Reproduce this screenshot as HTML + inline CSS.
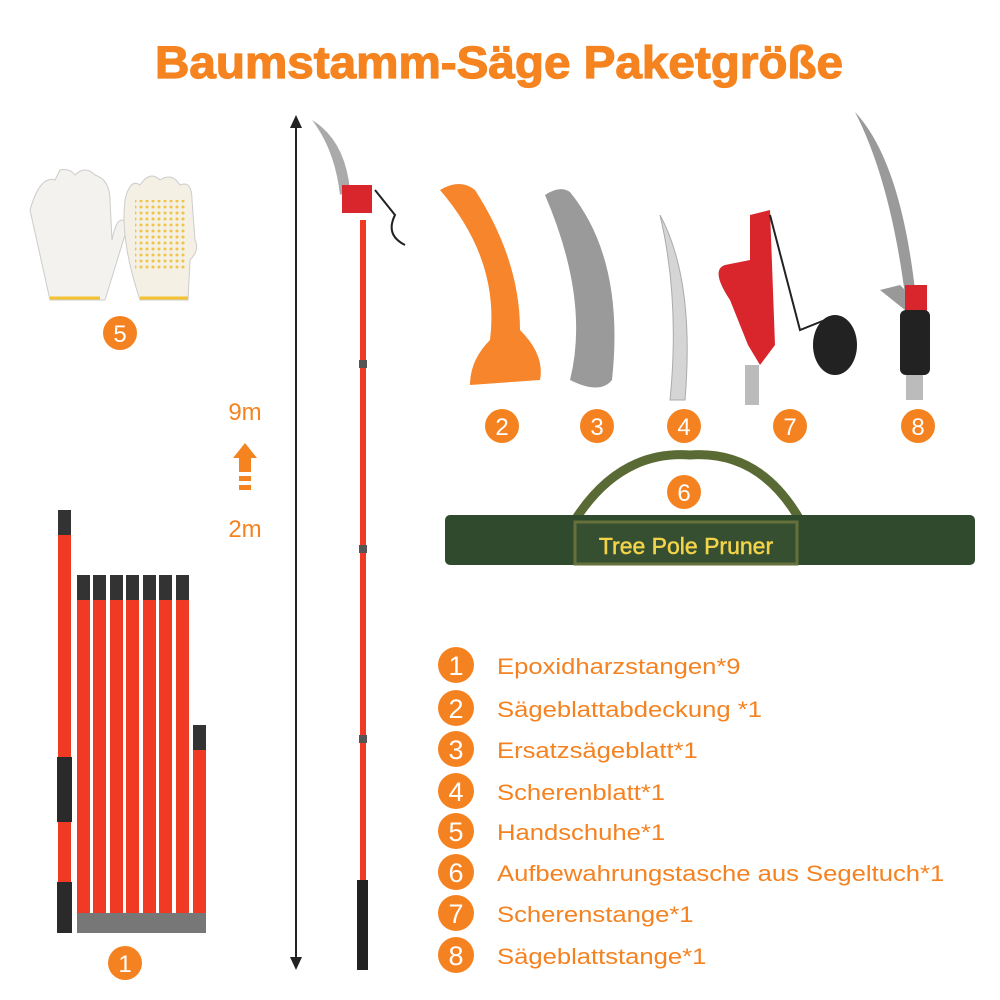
<!DOCTYPE html><html><head><style>body{margin:0;background:#fff}svg{display:block}</style></head><body>
<svg width="1000" height="1000" xmlns="http://www.w3.org/2000/svg" font-family="Liberation Sans, sans-serif">
<text x="155" y="78" font-size="45" font-weight="900" fill="#f5831f" stroke="#f5831f" stroke-width="1.2" textLength="688" lengthAdjust="spacingAndGlyphs">Baumstamm-Säge Paketgröße</text>
<!-- gloves -->
<path d="M30 210 Q40 175 55 180 L60 170 Q70 168 75 175 Q85 165 95 175 Q110 180 110 200 L112 240 Q118 210 128 225 L105 300 L50 300 Z" fill="#f4f2ee" stroke="#ccc"/>
<path d="M125 200 Q130 178 140 185 Q150 170 160 180 Q172 172 180 185 Q192 180 192 200 L195 240 Q200 250 190 260 L188 300 L140 300 Q120 240 125 200Z" fill="#f4f0e4" stroke="#ccc"/>
<defs><pattern id="d" width="6" height="6" patternUnits="userSpaceOnUse"><circle cx="3" cy="3" r="1.5" fill="#f0b820"/></pattern></defs>
<rect x="135" y="200" width="50" height="70" fill="url(#d)" opacity="0.8"/>
<line x1="50" y1="298" x2="100" y2="298" stroke="#f2c230" stroke-width="3"/>
<line x1="140" y1="298" x2="188" y2="298" stroke="#f2c230" stroke-width="3"/>
<!-- height arrow -->
<line x1="296" y1="120" x2="296" y2="965" stroke="#222" stroke-width="2"/>
<path d="M290 128 L296 115 L302 128Z M290 957 L296 970 L302 957Z" fill="#222"/>
<text x="245" y="420" font-size="24" fill="#f5831f" text-anchor="middle">9m</text>
<path d="M233 458 L245 443 L257 458 L251 458 L251 472 L239 472 L239 458Z" fill="#f5831f"/>
<rect x="239" y="476" width="12" height="5" fill="#f5831f"/><rect x="239" y="485" width="12" height="5" fill="#f5831f"/>
<text x="245" y="537" font-size="24" fill="#f5831f" text-anchor="middle">2m</text>
<!-- pole -->
<rect x="360" y="220" width="6" height="750" fill="#f03a24"/>
<rect x="359" y="360" width="8" height="8" fill="#555"/><rect x="359" y="545" width="8" height="8" fill="#555"/><rect x="359" y="735" width="8" height="8" fill="#555"/>
<rect x="357" y="880" width="11" height="90" fill="#222"/>
<path d="M312 120 Q345 140 350 190 L340 195 Q335 150 312 120Z" fill="#aaa"/>
<rect x="342" y="185" width="30" height="28" fill="#d9262c"/>
<path d="M375 190 L395 215 Q385 235 405 245" stroke="#222" stroke-width="2" fill="none"/>
<!-- sticks -->
<rect x="58" y="510" width="13" height="423" fill="#f03a24"/><rect x="58" y="510" width="13" height="25" fill="#333"/>
<rect x="57" y="757" width="15" height="65" fill="#2a2a2a"/><rect x="57" y="882" width="15" height="51" fill="#2a2a2a"/>
<g fill="#f03a24">
<rect x="77" y="575" width="13" height="358"/><rect x="93" y="575" width="13" height="358"/><rect x="110" y="575" width="13" height="358"/><rect x="126" y="575" width="13" height="358"/><rect x="143" y="575" width="13" height="358"/><rect x="159" y="575" width="13" height="358"/><rect x="176" y="575" width="13" height="358"/><rect x="193" y="725" width="13" height="208"/></g>
<g fill="#333"><rect x="77" y="575" width="13" height="25"/><rect x="93" y="575" width="13" height="25"/><rect x="110" y="575" width="13" height="25"/><rect x="126" y="575" width="13" height="25"/><rect x="143" y="575" width="13" height="25"/><rect x="159" y="575" width="13" height="25"/><rect x="176" y="575" width="13" height="25"/><rect x="193" y="725" width="13" height="25"/></g>
<rect x="77" y="913" width="129" height="20" fill="#777"/>
<!-- items -->
<path d="M440 190 Q460 178 475 190 Q520 260 520 330 Q545 355 540 380 L470 385 Q470 360 490 340 Q500 260 440 190Z" fill="#f7852c"/>
<path d="M545 195 Q560 185 570 192 Q625 260 612 380 Q600 395 570 380 Q590 300 545 195Z" fill="#9a9a9a"/>
<path d="M660 215 Q695 280 685 400 L670 400 Q680 300 660 215Z" fill="#d5d5d5" stroke="#aaa"/>
<path d="M750 215 L770 210 L775 345 L760 365 L748 345 L730 300 Q710 270 725 265 L750 260Z" fill="#d9262c"/>
<rect x="745" y="365" width="14" height="40" fill="#bbb"/>
<path d="M770 215 L800 330 L825 320" stroke="#222" stroke-width="2" fill="none"/>
<ellipse cx="835" cy="345" rx="22" ry="30" fill="#222"/>
<path d="M855 112 Q900 160 915 290 L905 295 Q890 180 855 112Z" fill="#9a9a9a"/>
<path d="M880 290 L900 285 L915 300 L905 310 Z" fill="#999"/>
<rect x="905" y="285" width="22" height="30" fill="#d9262c"/>
<rect x="900" y="310" width="30" height="65" rx="6" fill="#222"/>
<rect x="906" y="375" width="17" height="25" fill="#bbb"/>
<!-- bag -->
<path d="M575 520 Q620 450 690 455 Q760 450 800 520" stroke="#5a6a35" stroke-width="9" fill="none"/>
<rect x="445" y="515" width="530" height="50" rx="5" fill="#2f4a2c"/>
<rect x="575" y="522" width="222" height="42" fill="#354f30" stroke="#66703a" stroke-width="3"/>
<text x="686" y="554" text-anchor="middle" font-size="23" fill="#f3d34a" stroke="#f3d34a" stroke-width="0.5">Tree Pole Pruner</text>
<!-- circles -->
<g fill="#f58220">
<circle cx="120" cy="333" r="17"/><circle cx="502" cy="426" r="17"/><circle cx="597" cy="426" r="17"/><circle cx="684" cy="426" r="17"/><circle cx="790" cy="426" r="17"/><circle cx="918" cy="426" r="17"/><circle cx="684" cy="492" r="17"/><circle cx="125" cy="963" r="17"/>
<circle cx="456" cy="665" r="18"/><circle cx="456" cy="708" r="18"/><circle cx="456" cy="749" r="18"/><circle cx="456" cy="791" r="18"/><circle cx="456" cy="831" r="18"/><circle cx="456" cy="872" r="18"/><circle cx="456" cy="913" r="18"/><circle cx="456" cy="955" r="18"/></g>
<g fill="#fff" font-size="24" text-anchor="middle">
<text x="120" y="342">5</text><text x="502" y="435">2</text><text x="597" y="435">3</text><text x="684" y="435">4</text><text x="790" y="435">7</text><text x="918" y="435">8</text><text x="684" y="501">6</text><text x="125" y="972">1</text></g>
<g fill="#fff" font-size="27" text-anchor="middle">
<text x="456" y="675">1</text><text x="456" y="718">2</text><text x="456" y="759">3</text><text x="456" y="801">4</text><text x="456" y="841">5</text><text x="456" y="882">6</text><text x="456" y="923">7</text><text x="456" y="965">8</text></g>
<g fill="#f58220" font-size="22" transform="scale(1.165,1)">
<text x="426.6" y="674">Epoxidharzstangen*9</text><text x="426.6" y="717">Sägeblattabdeckung *1</text><text x="426.6" y="758">Ersatzsägeblatt*1</text><text x="426.6" y="800">Scherenblatt*1</text><text x="426.6" y="840">Handschuhe*1</text><text x="426.6" y="881">Aufbewahrungstasche aus Segeltuch*1</text><text x="426.6" y="922">Scherenstange*1</text><text x="426.6" y="964">Sägeblattstange*1</text></g>
</svg></body></html>
